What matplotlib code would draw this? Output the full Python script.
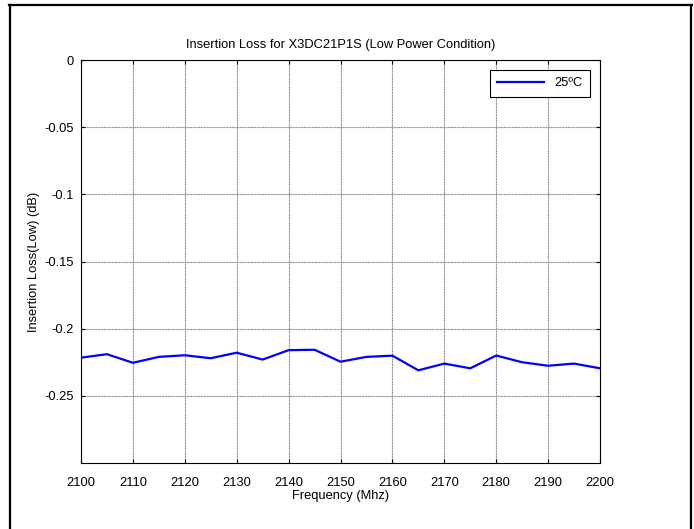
import matplotlib
matplotlib.use("Agg")
import matplotlib.pyplot as plt
from matplotlib.lines import Line2D

freq = [2100, 2105, 2110, 2115, 2120, 2125, 2130, 2135, 2140, 2145, 2150,
        2155, 2160, 2165, 2170, 2175, 2180, 2185, 2190, 2195, 2200]
loss = [-0.2216, -0.2190, -0.2254, -0.2210, -0.2198, -0.2220, -0.2179,
        -0.2230, -0.2160, -0.2157, -0.2246, -0.2210, -0.2201, -0.2310,
        -0.2260, -0.2295, -0.2200, -0.2250, -0.2276, -0.2260, -0.2295]
xticks = [2100, 2110, 2120, 2130, 2140, 2150, 2160, 2170, 2180, 2190, 2200]
yticks = [0, -0.05, -0.1, -0.15, -0.2, -0.25]
ytick_labels = ["0", "-0.05", "-0.1", "-0.15", "-0.2", "-0.25"]

plt.rcParams['font.family'] = ['Liberation Sans', 'DejaVu Sans']
W, H = 694, 529
FS = 9.3
fig = plt.figure(figsize=(W / 100, H / 100), dpi=100)
ax = fig.add_axes([81 / W, 1 - 463 / H, (600 - 81) / W, (463 - 60) / H])

ax.plot(freq, loss, color='#0000ff', lw=1.6, label='25ºC')
ax.set_xlim(2100, 2200)
ax.set_ylim(-0.3, 0)
ax.set_xticks(xticks)
ax.set_xticklabels([str(t) for t in xticks])
ax.set_yticks(yticks)
ax.set_yticklabels(ytick_labels)
ax.tick_params(direction='in', length=3, labelsize=FS, width=0.8,
               top=True, right=True)
ax.tick_params(axis='x', pad=10)
ax.tick_params(axis='y', pad=5)
ax.grid(True, color='#999999', lw=0.8, ls=(0, (2, 0.5)))
for s in ax.spines.values():
    s.set_linewidth(0.8)
ax.set_title('Insertion Loss for X3DC21P1S (Low Power Condition)', fontsize=FS, pad=9)
ax.set_xlabel('Frequency (Mhz)', fontsize=FS, labelpad=1)
ax.set_ylabel('Insertion Loss(Low) (dB)', fontsize=FS, labelpad=3)
leg = ax.legend(loc='upper right', fontsize=FS, fancybox=False, framealpha=1,
                edgecolor='black', borderaxespad=0.8, handlelength=3.6,
                borderpad=0.55, handletextpad=0.8)
leg.get_frame().set_linewidth(0.8)

def px_line(x0, y0, x1, y1):
    fig.add_artist(Line2D([x0 / W, x1 / W], [1 - y0 / H, 1 - y1 / H],
                          transform=fig.transFigure, color='black', lw=1.6))

px_line(9, 5, 692, 5)
px_line(10, 5, 10, 529)
px_line(691, 5, 691, 529)

fig.savefig('out.png', dpi=100)
